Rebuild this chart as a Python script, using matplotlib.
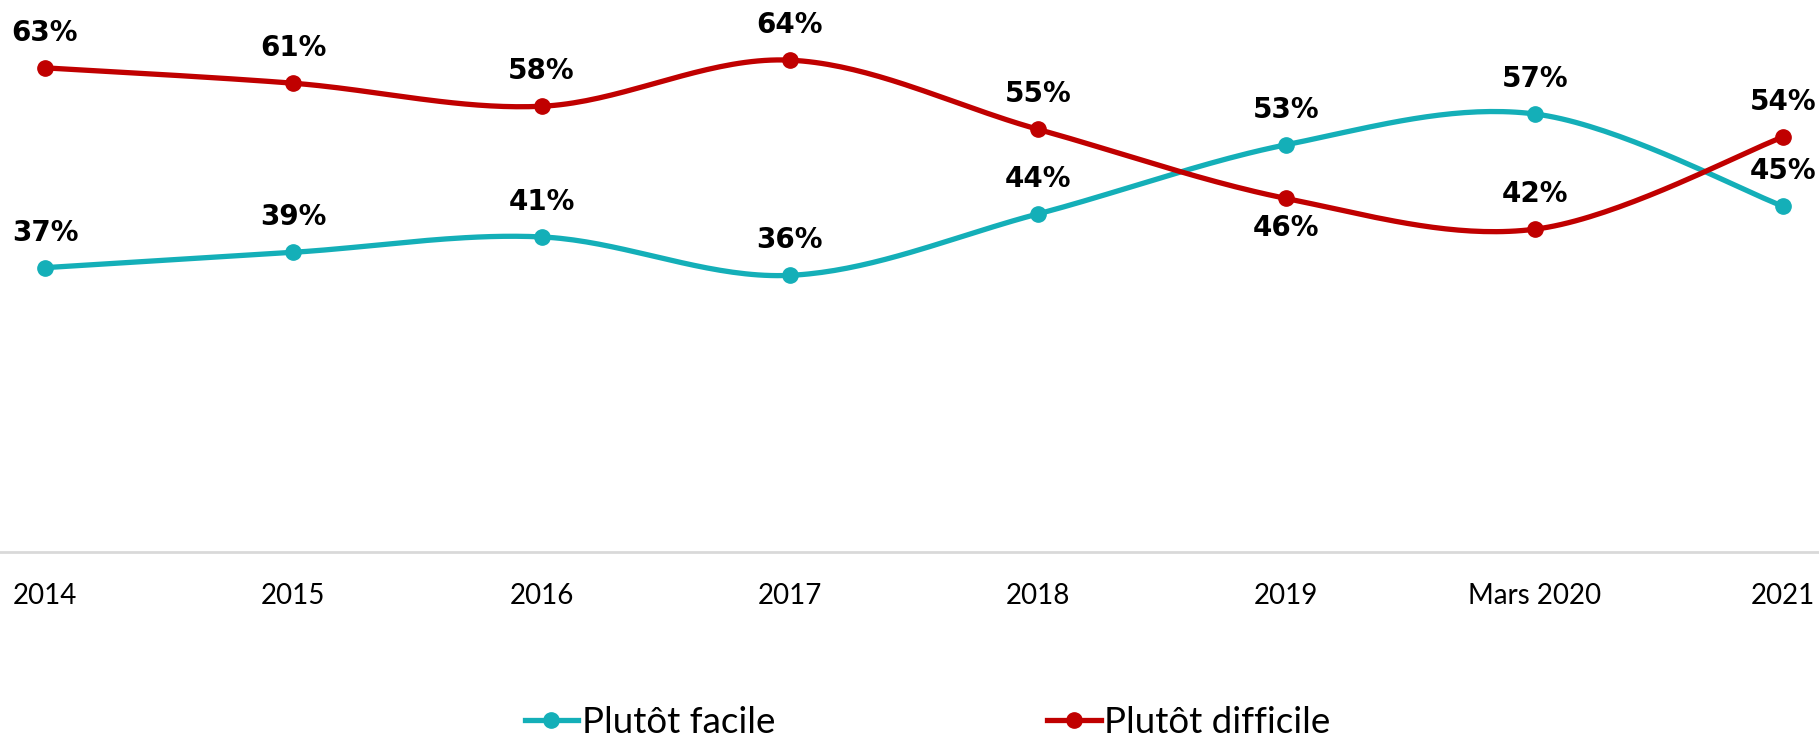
import numpy as np
import matplotlib
matplotlib.use('Agg')
import matplotlib.pyplot as plt

# categories and series values (percent)
years = ['2014', '2015', '2016', '2017', '2018', '2019', 'Mars 2020', '2021']
facile = [37, 39, 41, 36, 44, 53, 57, 45]
difficile = [63, 61, 58, 64, 55, 46, 42, 54]

# label placement: 1 = above the point, -1 = below
facile_side = [1, 1, 1, 1, 1, 1, 1, 1]
difficile_side = [1, 1, 1, 1, 1, -1, 1, 1]

teal = '#14AFB8'
red = '#C00000'


def smooth(xs, ys, n=40):
    # Excel-like smoothed line: cubic Bezier segments with Catmull-Rom control points
    xs = np.asarray(xs, float)
    ys = np.asarray(ys, float)
    px = np.concatenate([[xs[0]], xs, [xs[-1]]])
    py = np.concatenate([[ys[0]], ys, [ys[-1]]])
    out_x, out_y = [], []
    t = np.linspace(0, 1, n)
    for i in range(1, len(px) - 2):
        p0 = np.array([px[i], py[i]])
        p3 = np.array([px[i + 1], py[i + 1]])
        c1 = p0 + (np.array([px[i + 1], py[i + 1]]) - np.array([px[i - 1], py[i - 1]])) / 6
        c2 = p3 - (np.array([px[i + 2], py[i + 2]]) - np.array([px[i], py[i]])) / 6
        b = ((1 - t) ** 3)[:, None] * p0 + (3 * (1 - t) ** 2 * t)[:, None] * c1 \
            + (3 * (1 - t) * t ** 2)[:, None] * c2 + (t ** 3)[:, None] * p3
        out_x.extend(b[:, 0])
        out_y.extend(b[:, 1])
    return out_x, out_y


fig = plt.figure(figsize=(18.19, 7.39), dpi=100)
ax = fig.add_axes([0, 0.253, 1, 0.728])

x = np.arange(len(years))
for vals, col, lab, side in [(facile, teal, 'Plutôt facile', facile_side),
                             (difficile, red, 'Plutôt difficile', difficile_side)]:
    sx, sy = smooth(x, vals)
    ax.plot(sx, sy, color=col, lw=3.8, solid_capstyle='round', zorder=2)
    ax.plot(x, vals, 'o', color=col, ms=11, zorder=3)
    ax.plot([], [], '-o', color=col, lw=3.8, ms=11, label=lab)
    for xi, v, s in zip(x, vals, side):
        off = 35 if s > 0 else -30
        ax.annotate(f'{v}%', (xi, v), xytext=(0, off), textcoords='offset pixels',
                    ha='center', va='center', fontsize=20, fontweight='bold',
                    family='DejaVu Sans', color='black', zorder=4)

ax.set_xlim(-0.181, 7.145)
ax.set_ylim(0, 70)
ax.set_xticks(x)
ax.set_xticklabels(years, fontsize=20, family='Lato')
ax.tick_params(axis='x', length=0, pad=22)
ax.set_yticks([])
for s in ['top', 'left', 'right']:
    ax.spines[s].set_visible(False)
ax.spines['bottom'].set_color('#D9D9D9')
ax.spines['bottom'].set_linewidth(2)

fig.legend(loc='center', bbox_to_anchor=(0.51, 0.023), ncol=2, frameon=False,
           prop={'family': 'Lato', 'size': 26.5}, handlelength=1.45, handletextpad=0.1,
           columnspacing=7.4, borderaxespad=0)

fig.savefig('out.png', dpi=100)
